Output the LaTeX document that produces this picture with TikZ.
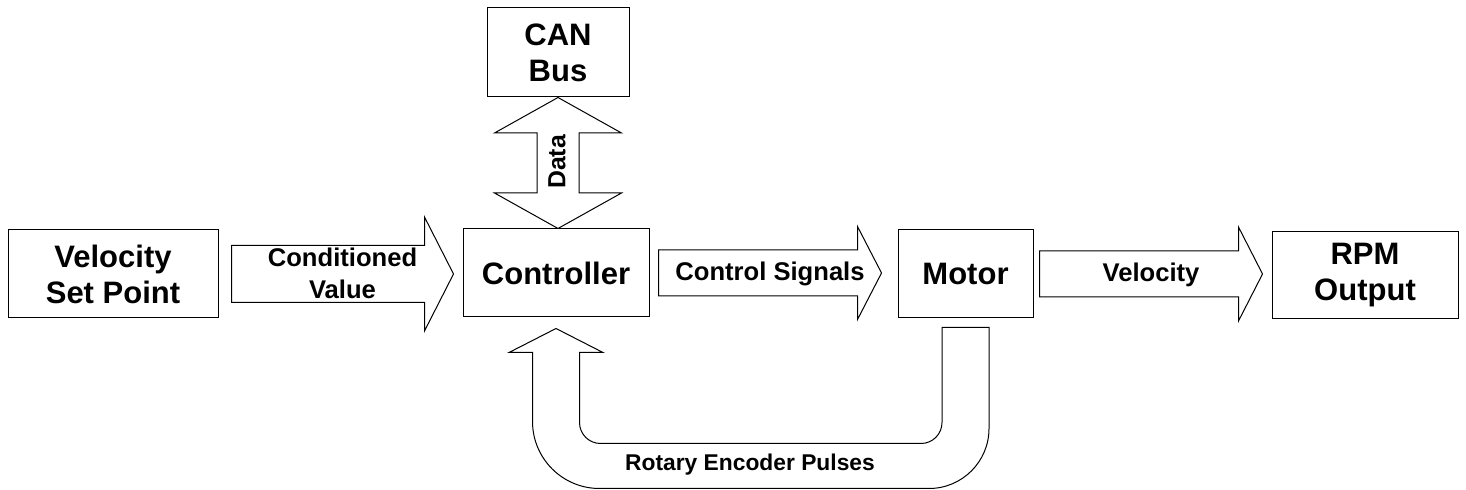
\documentclass[tikz,border=0pt]{standalone}
\usepackage{fontspec}
\setmainfont{Liberation Sans}
\usetikzlibrary{calc}
\tikzset{
  blk/.style={draw=black, line width=0.5pt, fill=white, line join=miter},
  box/.style={draw=black, line width=0.5pt, inner sep=0pt, align=center,
    font=\fontsize{15.5}{18}\selectfont\bfseries},
  alabel/.style={inner sep=0pt, align=center, font=\fontsize{12.8}{16}\selectfont\bfseries},
  rblock/.style n args={3}{to path={let \p1=(\tikztostart), \p2=(\tikztotarget) in
     (\x1,\y1+#1) -- (\x2-#3,\y1+#1) -- (\x2-#3,\y1+#2) -- (\x2,\y1)
     -- (\x2-#3,\y1-#2) -- (\x2-#3,\y1-#1) -- (\x1,\y1-#1) -- cycle}},
  vdblock/.style n args={3}{to path={let \p1=(\tikztostart), \p2=(\tikztotarget) in
     (\x1,\y1) -- (\x1+#2,\y1-#3) -- (\x1+#1,\y1-#3) -- (\x1+#1,\y2+#3)
     -- (\x1+#2,\y2+#3) -- (\x1,\y2) -- (\x1-#2,\y2+#3) -- (\x1-#1,\y2+#3)
     -- (\x1-#1,\y1-#3) -- (\x1-#2,\y1-#3) -- cycle}}
}
\begin{document}
\begin{tikzpicture}[x=0.5pt,y=-0.5pt]
\useasboundingbox (0,0) rectangle (1466,490);
% boxes
\node[box, minimum width=105pt, minimum height=44pt] (vsp) at (113,274) {Velocity\\Set Point};
\node[box, minimum width=93pt, minimum height=44pt] (ctrl) at (556,273) {Controller};
\node[box, minimum width=71pt, minimum height=44.5pt] (can) at (558,52.5) {CAN\\Bus};
\node[box, minimum width=67.5pt, minimum height=44pt] (motor) at (965.5,274) {Motor};
\node[box, minimum width=93pt, minimum height=43.5pt] (rpm) at (1365,275.5) {RPM\\Output};
% arrow end points
\coordinate (a1s) at ([xshift=6.5pt]vsp.east);
\coordinate (a1e) at ([xshift=-4.5pt]ctrl.west);
\coordinate (a2s) at ([xshift=4.5pt]ctrl.east);
\coordinate (a2e) at ([xshift=-8pt]motor.west);
\coordinate (a3s) at ([xshift=3pt]motor.east);
\coordinate (a3e) at ([xshift=-4.5pt]rpm.west);
% block arrows
\draw[blk, rblock={14.25pt}{28.5pt}{14.5pt}] (a1s) to (a1e);
\draw[blk, rblock={11.5pt}{23.25pt}{12pt}] (a2s) to (a2e);
\draw[blk, rblock={11.5pt}{23.5pt}{12pt}] (a3s) to (a3e);
\draw[blk, vdblock={10.5pt}{31.75pt}{17.75pt}] (can.south) to (ctrl.north);
% feedback U arrow
\draw[blk] let \p1=([yshift=-4.5pt]motor.south), \p2=([yshift=-5.5pt]ctrl.south) in
  (\x2,\y2) -- (\x2+23.5pt,\y2-12pt) -- (\x2+11.75pt,\y2-12pt) -- (\x2+11.75pt,\y2-47pt)
  .. controls (\x2+11.75pt,\y2-52.8pt) and (\x2+16.45pt,\y2-57.5pt) .. (\x2+22.25pt,\y2-57.5pt)
  -- (\x1-22.25pt,\y2-57.5pt)
  .. controls (\x1-16.45pt,\y2-57.5pt) and (\x1-11.75pt,\y2-52.8pt) .. (\x1-11.75pt,\y2-47pt)
  -- (\x1-11.75pt,\y1) -- (\x1+11.75pt,\y1) -- (\x1+11.75pt,\y2-50pt)
  .. controls (\x1+11.75pt,\y2-66.57pt) and (\x1-1.68pt,\y2-80pt) .. (\x1-18.25pt,\y2-80pt)
  -- (\x2+21.75pt,\y2-80pt)
  .. controls (\x2+3.25pt,\y2-80pt) and (\x2-11.75pt,\y2-65pt) .. (\x2-11.75pt,\y2-46.5pt)
  -- (\x2-11.75pt,\y2-12pt) -- (\x2-23.5pt,\y2-12pt) -- cycle;
% labels
\node[alabel] (lcv) at ($(a1s)!0.5!(a1e)$) {Conditioned\\Value};
\node[alabel] (lcs) at ($(a2s)!0.5!(a2e)$) {Control Signals};
\node[alabel] (lvel) at ($(a3s)!0.5!(a3e)$) {Velocity};
\node[alabel, rotate=90, font=\fontsize{12.4}{15}\selectfont\bfseries] (ldata) at (557,162) {Data};
\node[alabel, font=\fontsize{11.4}{13}\selectfont\bfseries] (lrep) at (750,465) {Rotary Encoder Pulses};
\end{tikzpicture}
\end{document}
